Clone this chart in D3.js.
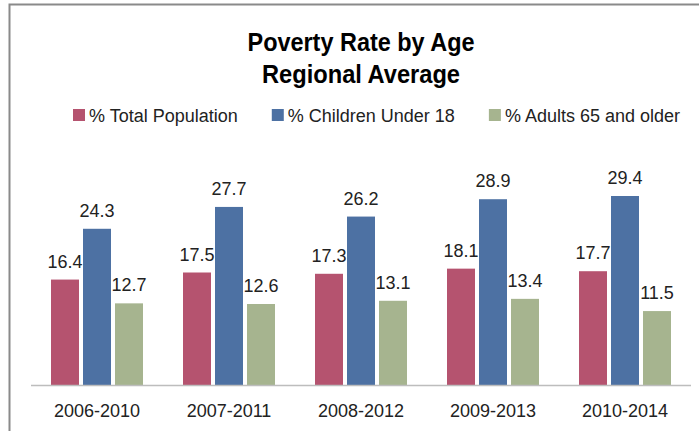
<!DOCTYPE html>
<html>
<head>
<meta charset="utf-8">
<script src="https://cdn.jsdelivr.net/npm/d3@7"></script>
<style>
  html, body { margin: 0; padding: 0; background: #fff; }
  svg { display: block; font-family: "Liberation Sans", Arial, sans-serif; }
</style>
</head>
<body>
<svg id="chart" width="699" height="431"></svg>
<script>
// Poverty rate (%) by age group, five-year periods
const periods = ["2006-2010", "2007-2011", "2008-2012", "2009-2013", "2010-2014"];
const seriesNames = ["% Total Population", "% Children Under 18", "% Adults 65 and older"];
const totalPopulation = [16.4, 17.5, 17.3, 18.1, 17.7];
const childrenUnder18 = [24.3, 27.7, 26.2, 28.9, 29.4];
const adults65Older = [12.7, 12.6, 13.1, 13.4, 11.5];
const seriesColors = ["#B5536F", "#4D71A3", "#A6B48F"];
const titleLines = ["Poverty Rate by Age", "Regional Average"];

const seriesValues = [totalPopulation, childrenUnder18, adults65Older];
const rows = periods.map((p, i) => ({
  period: p,
  values: seriesNames.map((s, j) => ({ series: s, idx: j, value: seriesValues[j][i] }))
}));

const svg = d3.select("#chart");
const W = 699, H = 431;

// outer frame (right and bottom edges fall outside the view)
svg.append("rect")
  .attr("x", 9.5).attr("y", 4.5)
  .attr("width", W + 20).attr("height", H + 20)
  .attr("fill", "none").attr("stroke", "#8A8A8A").attr("stroke-width", 2);

const plot = { left: 31, right: 691, bottom: 385, top: 160 };

const x = d3.scaleBand().domain(periods).range([plot.left, plot.right]).paddingInner(0).paddingOuter(0);
const groupWidth = 92;
const xInner = d3.scaleBand().domain(d3.range(seriesNames.length))
  .range([0, groupWidth]).paddingInner(0.125).paddingOuter(0);
const y = d3.scaleLinear().domain([0, 35]).range([plot.bottom, plot.top]);

// title
const titleCx = (plot.left + plot.right) / 2;
const titleWidths = [227, 198];
svg.append("g").selectAll("text").data(titleLines).join("text")
  .attr("x", titleCx)
  .attr("y", (d, i) => 51 + i * 32)
  .attr("text-anchor", "middle")
  .attr("font-size", 25)
  .attr("font-weight", "bold")
  .attr("fill", "#000")
  .attr("textLength", (d, i) => titleWidths[i])
  .attr("lengthAdjust", "spacingAndGlyphs")
  .text(d => d);

// legend
const legend = svg.append("g").attr("transform", "translate(73,0)");
let lx = 0;
seriesNames.forEach((name, i) => {
  const g = legend.append("g").attr("transform", `translate(${lx},0)`);
  g.append("rect").attr("x", 0).attr("y", 109).attr("width", 12).attr("height", 12)
    .attr("fill", seriesColors[i]);
  const t = g.append("text").attr("x", 16).attr("y", 122)
    .attr("font-size", 18).attr("fill", "#222").text(name);
  lx += 16 + t.node().getComputedTextLength() + 34;
});

// bars
const groups = svg.append("g").selectAll("g").data(rows).join("g")
  .attr("transform", d => `translate(${x(d.period) + (x.bandwidth() - groupWidth) / 2},0)`);

groups.selectAll("rect").data(d => d.values).join("rect")
  .attr("x", d => xInner(d.idx))
  .attr("y", d => y(d.value))
  .attr("width", xInner.bandwidth())
  .attr("height", d => y(0) - y(d.value))
  .attr("fill", d => seriesColors[d.idx]);

// value labels
groups.selectAll("text").data(d => d.values).join("text")
  .attr("x", d => xInner(d.idx) + xInner.bandwidth() / 2)
  .attr("y", d => y(d.value) - 12)
  .attr("text-anchor", "middle")
  .attr("font-size", 18)
  .attr("fill", "#222")
  .text(d => d.value.toFixed(1));

// x axis
const xAxis = d3.axisBottom(x).tickSize(0).tickPadding(0);
const axisG = svg.append("g").attr("transform", `translate(0,${plot.bottom})`).call(xAxis);
axisG.select(".domain").attr("stroke", "#BDBDBD").attr("stroke-width", 1.5)
  .attr("d", `M${plot.left},0.5H${plot.right}`);
axisG.selectAll(".tick text")
  .attr("y", 32).attr("dy", null)
  .attr("font-size", 18).attr("font-family", "Liberation Sans, Arial, sans-serif")
  .attr("fill", "#222");
</script>
</body>
</html>
